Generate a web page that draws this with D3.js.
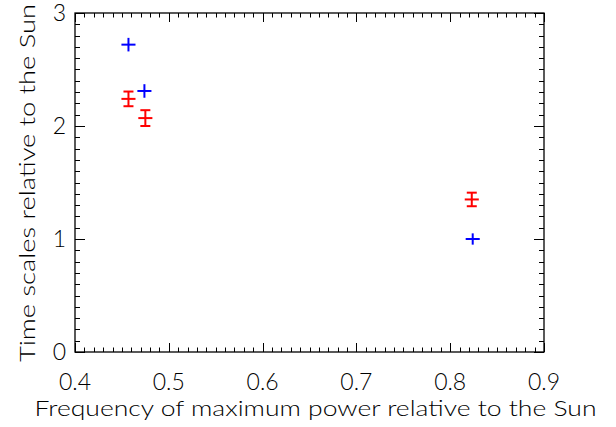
<!DOCTYPE html>
<html><head><meta charset="utf-8">
<script src="https://cdn.jsdelivr.net/npm/d3@7"></script>
<style>body{margin:0;background:#fff}svg{display:block}text{font-family:Lato,"DejaVu Sans",sans-serif;font-weight:300;fill:#000}</style>
</head><body>
<svg id="c" width="616" height="427"></svg>
<script>
// Data (relative to the Sun)
const blueX = [0.457, 0.474, 0.824];
const blueY = [2.72, 2.31, 1.00];
const blueXErr = [0.0075, 0.0075, 0.0075];
const blueYErr = [0.06, 0.06, 0.05];
const redX = [0.457, 0.475, 0.823];
const redY = [2.24, 2.07, 1.35];
const redXErr = [0.0075, 0.0075, 0.0075];
const redYErr = [0.065, 0.07, 0.06];
const xTicks = [0.4, 0.5, 0.6, 0.7, 0.8, 0.9];
const yTicks = [0, 1, 2, 3];
const xTitle = "Frequency of maximum power relative to the Sun";
const yTitle = "Time scales relative to the Sun";

const svg = d3.select("#c");
const L = 75, R = 544, T = 13, B = 352;
const x = d3.scaleLinear().domain([0.4, 0.9]).range([L, R]);
const y = d3.scaleLinear().domain([0, 3]).range([B, T]);

const g = svg.append("g");
g.append("rect").attr("x", L).attr("y", T).attr("width", R - L).attr("height", B - T)
  .attr("fill", "none").attr("stroke", "#000").attr("stroke-width", 1.3);

const xMinor = d3.range(0, 51).map(i => 0.4 + i * 0.01);
const yMinor = d3.range(0, 31).map(i => i * 0.1);
const isMajX = v => Math.abs(v * 10 - Math.round(v * 10)) < 1e-6;
const isMajY = v => Math.abs(v - Math.round(v)) < 1e-6;

xMinor.forEach(v => {
  const len = isMajX(v) ? 9 : 4.5;
  const px = Math.round(x(v)) + 0.5;
  g.append("line").attr("x1", px).attr("x2", px).attr("y1", B).attr("y2", B - len).attr("stroke", "#000");
  g.append("line").attr("x1", px).attr("x2", px).attr("y1", T).attr("y2", T + len).attr("stroke", "#000");
});
yMinor.forEach(v => {
  const len = isMajY(v) ? 10 : 5;
  const py = Math.round(y(v)) + 0.5;
  g.append("line").attr("x1", L).attr("x2", L + len).attr("y1", py).attr("y2", py).attr("stroke", "#000");
  g.append("line").attr("x1", R).attr("x2", R - len).attr("y1", py).attr("y2", py).attr("stroke", "#000");
});

g.selectAll(".xl").data(xTicks).enter().append("text")
  .attr("x", d => x(d)).attr("y", 390).attr("text-anchor", "middle")
  .style("font-size", "23px").text(d => d.toFixed(1));
g.selectAll(".yl").data(yTicks).enter().append("text")
  .attr("x", 66).attr("y", d => y(d) + 8).attr("text-anchor", "end")
  .style("font-size", "23px").text(d => d);

g.append("text").attr("x", (L + R) / 2 + 6).attr("y", 416).attr("text-anchor", "middle")
  .style("font-size", "22px").attr("textLength", 562).attr("lengthAdjust", "spacingAndGlyphs").text(xTitle);
g.append("text").attr("transform", `translate(35,183) rotate(-90)`).attr("text-anchor", "middle")
  .style("font-size", "22px").attr("textLength", 358).attr("lengthAdjust", "spacingAndGlyphs").text(yTitle);

function draw(xs, ys, xe, ye, color, caps) {
  xs.forEach((xv, i) => {
    const cx = x(xv), cy = y(ys[i]);
    g.append("line").attr("x1", x(xv - xe[i])).attr("x2", x(xv + xe[i])).attr("y1", cy).attr("y2", cy)
      .attr("stroke", color).attr("stroke-width", 2);
    g.append("line").attr("x1", cx).attr("x2", cx).attr("y1", y(ys[i] - ye[i])).attr("y2", y(ys[i] + ye[i]))
      .attr("stroke", color).attr("stroke-width", 2);
    if (caps) {
      [ys[i] - ye[i], ys[i] + ye[i]].forEach(v => {
        g.append("line").attr("x1", cx - 5).attr("x2", cx + 5).attr("y1", y(v)).attr("y2", y(v))
          .attr("stroke", color).attr("stroke-width", 2);
      });
    }
  });
}
draw(redX, redY, redXErr, redYErr, "#ff0000", true);
draw(blueX, blueY, blueXErr, blueYErr, "#0000ff", false);
</script>
</body></html>
